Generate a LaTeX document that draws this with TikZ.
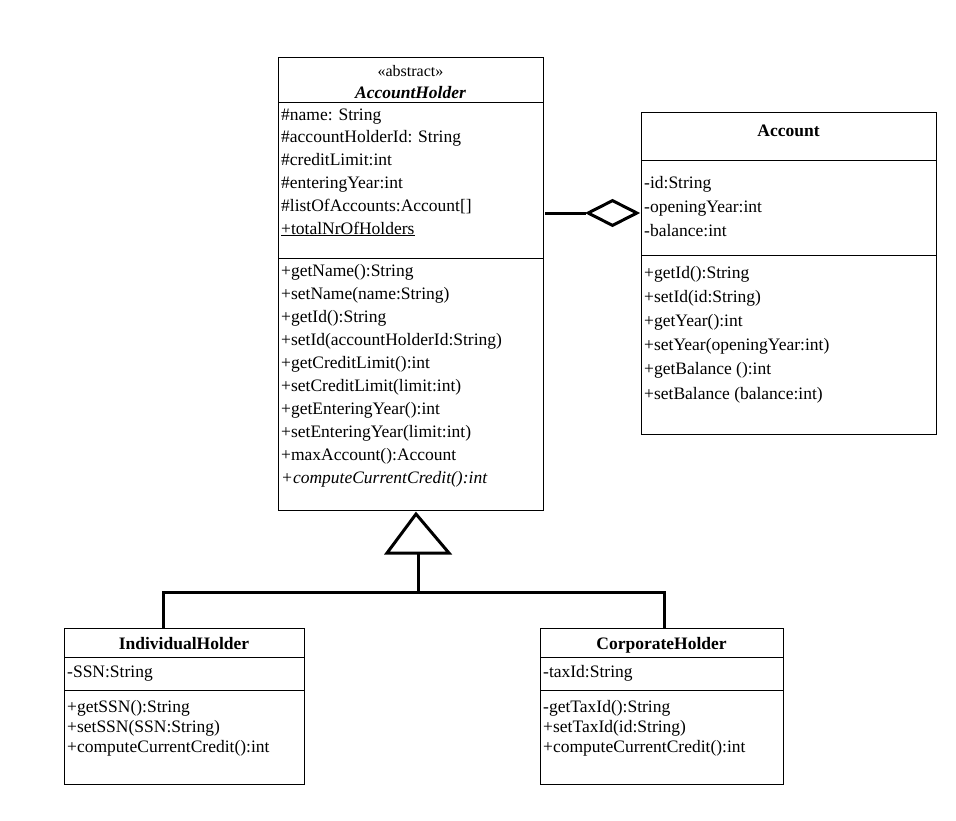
\documentclass[tikz,border=0pt]{standalone}
\usepackage{fontspec}
\setmainfont{Liberation Serif}
\usetikzlibrary{shapes.geometric}
\begin{document}
\begin{tikzpicture}[x=1pt,y=-1pt,
  box/.style={draw=black,line width=0.8pt},
  sep/.style={line width=0.8pt},
  txt/.style={anchor=base west,inner sep=0pt,font=\fontsize{17.5}{19}\selectfont},
  ttl/.style={anchor=base,inner sep=0pt,font=\fontsize{17.5}{19}\selectfont\bfseries},
  conn/.style={line width=3pt}]
\useasboundingbox (0,0) rectangle (956,820);
% AccountHolder
\draw[box] (278,57) rectangle (543,510);
\coordinate (ahR) at (545,213);
\draw[sep] (278,102) -- (543,102);
\draw[sep] (278,258) -- (543,258);
\node[ttl,font=\fontsize{16}{18}\selectfont] (ahs) at (410.5,76) {\textless\textless abstract\textgreater\textgreater};
\node[ttl,font=\fontsize{17.5}{19}\selectfont\bfseries\itshape] (aht) at (410.5,98) {AccountHolder};
\foreach \t [count=\i from 0] in {\#name: String,\#accountHolderId: String,\#creditLimit:int,\#enteringYear:int,\#listOfAccounts:Account[],\underline{+totalNrOfHolders}}
  \node[txt] (aha\i) at (281,120+22.8*\i) {\t};
\foreach \t [count=\i from 0] in {+getName():String,+setName(name:String),+getId():String,+setId(accountHolderId:String),+getCreditLimit():int,+setCreditLimit(limit:int),+getEnteringYear():int,+setEnteringYear(limit:int),+maxAccount():Account,\textit{+computeCurrentCredit():int}}
  \node[txt] (ahm\i) at (281,276+23.1*\i) {\t};
% Account
\draw[box] (641,112) rectangle (936,434);
\coordinate (acL) at (639,213);
\draw[sep] (641,160) -- (936,160);
\draw[sep] (641,255) -- (936,255);
\node[ttl] (act) at (788.5,136) {Account};
\foreach \t [count=\i from 0] in {-id:String,-openingYear:int,-balance:int}
  \node[txt] (aca\i) at (644,188+24*\i) {\t};
\foreach \t [count=\i from 0] in {+getId():String,+setId(id:String),+getYear():int,+setYear(openingYear:int),+getBalance ():int,+setBalance (balance:int)}
  \node[txt] (acm\i) at (644,278+24.2*\i) {\t};
% aggregation
\node[draw=black,line width=3pt,diamond,aspect=2,minimum width=50pt,minimum height=26pt,inner sep=0,anchor=east] (dia) at (acL) {};
\draw[conn] (ahR) -- (dia.west);
% IndividualHolder
\draw[box] (64,628) rectangle (304,784);
\draw[sep] (64,657) -- (304,657);
\draw[sep] (64,690) -- (304,690);
\node[ttl] (iht) at (184,649) {IndividualHolder};
\node[txt] (iha) at (67,677) {-SSN:String};
\foreach \t [count=\i from 0] in {+getSSN():String,+setSSN(SSN:String),+computeCurrentCredit():int}
  \node[txt] (ihm\i) at (67,712+20*\i) {\t};
\coordinate (ihT) at (163,628);
% CorporateHolder
\draw[box] (540,628) rectangle (783,784);
\draw[sep] (540,657) -- (783,657);
\draw[sep] (540,690) -- (783,690);
\node[ttl] (cht) at (661.5,649) {CorporateHolder};
\node[txt] (cha) at (543,677) {-taxId:String};
\foreach \t [count=\i from 0] in {-getTaxId():String,+setTaxId(id:String),+computeCurrentCredit():int}
  \node[txt] (chm\i) at (543,712+20*\i) {\t};
\coordinate (chT) at (664,628);
% inheritance
\draw[line width=3pt,line join=miter] (416,514) -- (449,553) -- (387,553) -- cycle;
\coordinate (triB) at (418,553);
\coordinate (jn) at (418,592);
\draw[conn] (triB) -- (jn);
\draw[conn] (ihT) |- (jn) -| (chT);
\end{tikzpicture}
\end{document}
